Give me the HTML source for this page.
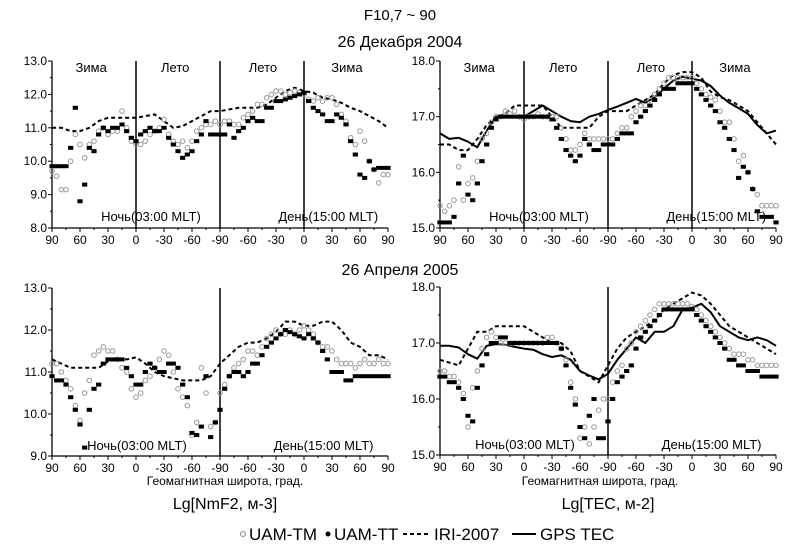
<!DOCTYPE html>
<html><head><meta charset="utf-8"><style>
html,body{margin:0;padding:0;background:#fff;}
svg{display:block;font-family:"Liberation Sans",sans-serif;}
</style></head><body>
<svg id="chart" width="798" height="552" viewBox="0 0 798 552" xmlns="http://www.w3.org/2000/svg">
<text x="400" y="20" font-size="15" text-anchor="middle">F10,7 ~ 90</text>
<text x="400" y="47" font-size="16" text-anchor="middle">26 Декабря 2004</text>
<text x="400" y="275" font-size="16" text-anchor="middle">26 Апреля 2005</text>
<text x="225" y="485" font-size="12" text-anchor="middle">Геомагнитная широта, град.</text>
<text x="600" y="485" font-size="12" text-anchor="middle">Геомагнитная широта, град.</text>
<text x="225" y="509" font-size="16" text-anchor="middle">Lg[NmF2, м-3]</text>
<text x="608" y="509" font-size="16" text-anchor="middle">Lg[TEC, м-2]</text>
<g>
 <g><circle cx="243" cy="534" r="2.5" fill="none" stroke="#888" stroke-width="1"/><text x="249" y="540" font-size="17">UAM-TM</text></g>
 <g><circle cx="328" cy="534" r="2.5" fill="#000"/><text x="334" y="540" font-size="17">UAM-TT</text></g>
 <g><line x1="403" y1="534" x2="430" y2="534" stroke="#000" stroke-width="2" stroke-dasharray="4,3"/><text x="434" y="540" font-size="17">IRI-2007</text></g>
 <g><line x1="512" y1="534" x2="536" y2="534" stroke="#000" stroke-width="2"/><text x="540" y="540" font-size="17">GPS TEC</text></g>
</g>
</svg>
<script>
const xTickLabels = ["90","60","30","0","-30","-60","-90","-60","-30","0","30","60","90"];
const p1TT = [9.85,9.85,9.85,9.85,10.4,11.6,8.8,9.3,10.4,10.3,
10.8,11.0,10.9,11.0,11.0,11.1,10.9,10.7,10.6,10.8,
10.9,11.0,10.9,10.9,11.0,10.7,10.5,10.3,10.1,10.2,
10.3,10.6,10.8,11.2,10.8,10.8,10.8,10.8,11.1,10.7,
10.9,11.0,11.2,11.3,11.2,11.2,11.6,11.6,11.8,11.8,
11.85,11.9,11.95,12.0,12.05,11.8,11.6,11.5,11.4,11.2,
11.2,11.4,11.3,11.1,10.6,10.2,9.6,9.5,10.0,9.75,
9.8,9.8,9.8];
const p1TM = [9.7,9.55,9.15,9.15,10.0,10.8,10.5,10.1,10.5,10.6,
10.9,11.0,10.8,10.9,10.9,11.5,11.0,10.6,10.5,10.5,
10.6,10.8,10.9,11.0,11.25,10.8,10.6,10.5,10.6,10.4,
10.6,10.9,11.0,11.1,11.1,11.2,11.1,11.2,11.2,11.1,
11.1,11.3,11.4,11.5,11.7,11.7,11.9,12.0,12.1,12.1,
12.0,12.05,12.1,12.05,12.0,11.85,11.8,11.9,11.8,11.9,
11.9,11.7,11.4,11.2,10.7,10.5,10.9,10.6,10.0,9.75,
9.35,9.6,9.6];
const p1IRI = [11.0,11.0,10.9,10.9,11.0,11.2,11.3,11.3,11.3,11.3,11.35,11.4,11.2,11.0,11.05,11.2,11.35,11.5,11.5,11.55,11.6,11.6,11.6,11.7,11.9,12.1,12.2,12.1,12.05,11.9,11.85,11.75,11.6,11.5,11.35,11.2,11.0];

const p2TT = [15.1,15.1,15.1,15.2,15.8,16.3,15.6,15.5,15.8,16.2,
16.5,16.8,16.95,17.0,17.0,17.0,17.0,17.0,17.0,17.0,
17.0,17.0,17.0,17.0,16.95,16.8,16.6,16.4,16.3,16.2,
16.3,16.6,16.5,16.4,16.4,16.5,16.5,16.5,16.6,16.7,
16.7,16.7,16.9,17.0,17.1,17.2,17.3,17.4,17.5,17.5,
17.5,17.6,17.6,17.6,17.6,17.5,17.4,17.3,17.2,17.1,
16.9,16.8,16.6,16.4,15.9,16.1,16.0,15.7,15.3,15.2,
15.2,15.2,15.1];
const p2TM = [15.4,15.3,15.4,15.5,16.1,15.5,15.8,15.9,16.2,16.6,
16.7,16.9,17.0,17.0,17.1,17.05,17.1,17.0,16.95,17.0,
17.0,17.05,17.0,17.0,17.0,17.0,16.8,16.6,16.4,16.4,
16.5,16.7,16.6,16.6,16.6,16.6,16.6,16.6,16.7,16.8,
16.8,17.0,17.1,17.2,17.2,17.3,17.4,17.5,17.6,17.7,
17.7,17.7,17.7,17.7,17.7,17.6,17.5,17.4,17.35,17.3,
17.1,16.9,16.9,16.6,16.2,16.3,16.0,15.7,15.6,15.4,
15.4,15.4,15.4];
const p2IRI = [16.5,16.5,16.4,16.4,16.6,16.85,17.0,17.05,17.2,17.2,17.2,17.2,17.0,16.8,16.8,16.8,16.8,17.0,17.1,17.1,17.1,17.2,17.3,17.4,17.6,17.75,17.8,17.8,17.7,17.45,17.35,17.3,17.2,17.1,16.9,16.7,16.5];
const p2GPS = [16.7,16.6,16.62,16.55,16.45,16.75,17.0,17.02,17.0,17.0,17.1,17.2,17.1,17.0,16.92,16.9,17.0,17.05,17.12,17.18,17.25,17.32,17.25,17.35,17.5,17.65,17.72,17.68,17.65,17.55,17.38,17.25,17.15,17.05,16.85,16.7,16.75];

const p3TT = [10.9,10.8,10.8,10.7,10.4,10.1,9.75,9.2,10.1,10.6,
10.7,11.2,11.3,11.3,11.3,11.3,11.1,10.9,10.7,10.7,
11.0,11.2,11.1,11.0,11.0,11.2,11.2,11.1,10.7,10.4,
9.55,9.5,9.7,10.9,9.45,9.8,10.1,10.6,10.9,11.0,
11.0,10.9,11.0,11.2,11.2,11.4,11.6,11.7,11.8,11.9,
12.0,11.95,11.9,11.85,11.8,11.9,11.8,11.7,11.5,11.3,
11.0,11.0,11.0,10.8,10.8,10.9,10.9,10.9,10.9,10.9,
10.9,10.9,10.9];
const p3TM = [11.2,11.2,11.0,10.8,10.6,10.2,9.85,10.5,10.8,11.4,
11.5,11.6,11.5,11.5,11.3,11.1,11.0,10.6,10.4,10.5,
10.8,10.9,11.1,11.3,11.5,11.4,11.0,10.6,10.4,10.2,
9.5,9.8,11.1,10.5,9.7,9.8,10.5,10.7,10.9,11.1,
11.2,11.3,11.5,11.5,11.4,11.6,11.8,11.9,12.0,11.9,
11.9,12.0,11.9,12.0,12.1,12.0,11.9,11.7,11.6,11.6,
11.5,11.3,11.2,11.2,11.2,11.1,11.2,11.3,11.2,11.2,
11.3,11.2,11.2];
const p3IRI = [11.3,11.2,11.1,11.1,11.1,11.1,11.25,11.3,11.3,11.35,11.2,11.0,10.9,10.85,10.8,10.8,10.8,10.9,11.2,11.4,11.6,11.7,11.7,11.8,11.95,12.2,12.2,12.1,12.1,12.2,12.2,12.0,11.7,11.6,11.4,11.4,11.3];

const p4TT = [16.4,16.4,16.3,16.3,16.2,16.0,15.7,15.6,16.2,16.6,
16.8,17.0,17.0,17.1,17.1,17.0,17.0,17.0,17.0,17.0,
17.0,17.0,17.0,17.0,17.0,17.0,16.9,16.6,16.2,15.9,
15.5,15.3,15.7,16.0,15.3,15.3,15.6,16.0,16.3,16.4,
16.5,16.6,16.9,17.1,17.2,17.3,17.4,17.5,17.6,17.6,
17.6,17.6,17.6,17.6,17.6,17.5,17.4,17.3,17.2,17.1,
17.0,16.9,16.7,16.7,16.6,16.6,16.5,16.5,16.5,16.4,
16.4,16.4,16.4];
const p4TM = [16.5,16.5,16.4,16.4,16.3,16.1,15.5,16.2,16.5,16.9,
17.1,17.2,17.1,17.0,17.0,17.0,17.0,17.0,17.0,17.0,
17.0,17.0,17.0,17.1,17.1,17.0,16.9,16.7,16.3,16.0,
15.3,15.5,15.2,15.5,15.8,16.0,16.0,16.3,16.5,16.6,
16.9,17.0,17.2,17.3,17.4,17.5,17.6,17.7,17.7,17.7,
17.7,17.7,17.7,17.7,17.65,17.6,17.5,17.4,17.3,17.2,
17.1,17.0,16.9,16.8,16.8,16.8,16.7,16.7,16.6,16.6,
16.6,16.6,16.6];
const p4IRI = [16.7,16.65,16.6,16.9,17.2,17.2,17.3,17.3,17.3,17.3,17.2,17.1,17.0,17.0,16.85,16.5,16.4,16.3,16.6,16.9,17.1,17.2,17.3,17.4,17.6,17.7,17.8,17.9,17.85,17.7,17.5,17.3,17.2,17.1,17.0,16.9,16.8];
const p4GPS = [16.95,16.95,16.92,16.8,16.72,16.95,16.98,16.97,16.93,16.9,16.88,16.8,16.75,16.78,16.7,16.5,16.42,16.35,16.45,16.7,16.9,17.1,17.0,17.2,17.2,17.3,17.6,17.63,17.7,17.55,17.3,17.2,17.1,17.05,17.1,17.05,16.95];

const NS = "http://www.w3.org/2000/svg";
const svg = document.getElementById("chart");
function mk(tag, attrs, parent) {
  const e = document.createElementNS(NS, tag);
  for (const k in attrs) e.setAttribute(k, attrs[k]);
  parent.appendChild(e);
  return e;
}
function panel(cfg) {
  const g = mk("g", {}, svg);
  
  
  const X = t => cfg.x0 + (t / 360) * (cfg.x1 - cfg.x0);
  const Y = v => cfg.yTop + (cfg.vmax - v) / (cfg.vmax - cfg.vmin) * (cfg.yBot - cfg.yTop);
  const ax = mk("path", {d: `M${cfg.x0} ${cfg.yTop} V${cfg.yBot} H${cfg.x1}`, stroke: "#000", "stroke-width": 1.3, fill: "none"}, g);
  
  
  for (let k = 0; k <= (cfg.vmax - cfg.vmin) * 2; k++) {
    const v = cfg.vmin + k * 0.5;
    const major = k % 2 === 0;
    mk("line", {x1: cfg.x0 - (major ? 4 : 2), x2: cfg.x0, y1: Y(v), y2: Y(v), stroke: "#000", "stroke-width": 1}, g);
    if (major) {
      const tl = mk("text", {x: cfg.x0 - 5, y: Y(v) + 4, "font-size": 12, "text-anchor": "end"}, g);
      tl.textContent = v.toFixed(1);
      
      
    }
  }
  xTickLabels.forEach((lab, i) => {
    const t = i * 30;
    mk("line", {x1: X(t), x2: X(t), y1: cfg.yBot, y2: cfg.yBot + 4, stroke: "#000", "stroke-width": 1}, g);
    if (t < 360) mk("line", {x1: X(t + 15), x2: X(t + 15), y1: cfg.yBot, y2: cfg.yBot + 2, stroke: "#000", "stroke-width": 1}, g);
    const tl = mk("text", {x: X(t), y: cfg.yBot + 16, "font-size": 12, "text-anchor": "middle"}, g);
    tl.textContent = lab;
    
    
  });
  cfg.dividers.forEach(t => {
    const l = mk("line", {x1: X(t), x2: X(t), y1: cfg.yTop, y2: cfg.yBot, stroke: "#000", "stroke-width": 1.5}, g);
    
    
  });
  cfg.labels.forEach(L => {
    const tl = mk("text", {x: X(L[0]), y: L[1], "font-size": 13, "text-anchor": "middle"}, g);
    tl.textContent = L[2];
    
    
  });
  const lineD = arr => arr.map((v, i) => (i ? "L" : "M") + X(i * 10).toFixed(1) + " " + Y(v).toFixed(1)).join(" ");
  const iri = mk("path", {d: lineD(cfg.iri), stroke: "#000", "stroke-width": 2, fill: "none", "stroke-dasharray": "4,3"}, g);
  
  
  if (cfg.gps) {
    const gps = mk("path", {d: lineD(cfg.gps), stroke: "#000", "stroke-width": 2, fill: "none", "stroke-linejoin": "round"}, g);
    
    
  }
  cfg.tm.forEach((v, i) => {
    const c = mk("circle", {cx: X(i * 5), cy: Y(v), r: 2.3, fill: "none", stroke: "#999", "stroke-width": 1}, g);
    
    
  });
  cfg.tt.forEach((v, i) => {
    const r = mk("rect", {x: X(i * 5) - 2.6, y: Y(v) - 2, width: 5.2, height: 4, fill: "#000"}, g);
    
    
  });
}
panel({name: "panel-nmf2-december", x0: 52, x1: 388, yTop: 61, yBot: 228, vmin: 8, vmax: 13,
  dividers: [90, 180, 270], tm: p1TM, tt: p1TT, iri: p1IRI,
  labels: [[42, 72, "Зима"], [132, 72, "Лето"], [226, 72, "Лето"], [316, 72, "Зима"], [106, 221, "Ночь(03:00 MLT)"], [296, 221, "День(15:00 MLT)"]]});
panel({name: "panel-tec-december", x0: 440, x1: 776, yTop: 61, yBot: 228, vmin: 15, vmax: 18,
  dividers: [90, 180, 270], tm: p2TM, tt: p2TT, iri: p2IRI, gps: p2GPS,
  labels: [[42, 72, "Зима"], [132, 72, "Лето"], [226, 72, "Лето"], [316, 72, "Зима"], [106, 221, "Ночь(03:00 MLT)"], [296, 221, "День(15:00 MLT)"]]});
panel({name: "panel-nmf2-april", x0: 52, x1: 388, yTop: 288, yBot: 456, vmin: 9, vmax: 13,
  dividers: [180], tm: p3TM, tt: p3TT, iri: p3IRI,
  labels: [[91, 450, "Ночь(03:00 MLT)"], [291, 450, "День(15:00 MLT)"]]});
panel({name: "panel-tec-april", x0: 440, x1: 776, yTop: 287, yBot: 455, vmin: 15, vmax: 18,
  dividers: [180], tm: p4TM, tt: p4TT, iri: p4IRI, gps: p4GPS,
  labels: [[91, 449, "Ночь(03:00 MLT)"], [291, 449, "День(15:00 MLT)"]]});
</script>
</body></html>
